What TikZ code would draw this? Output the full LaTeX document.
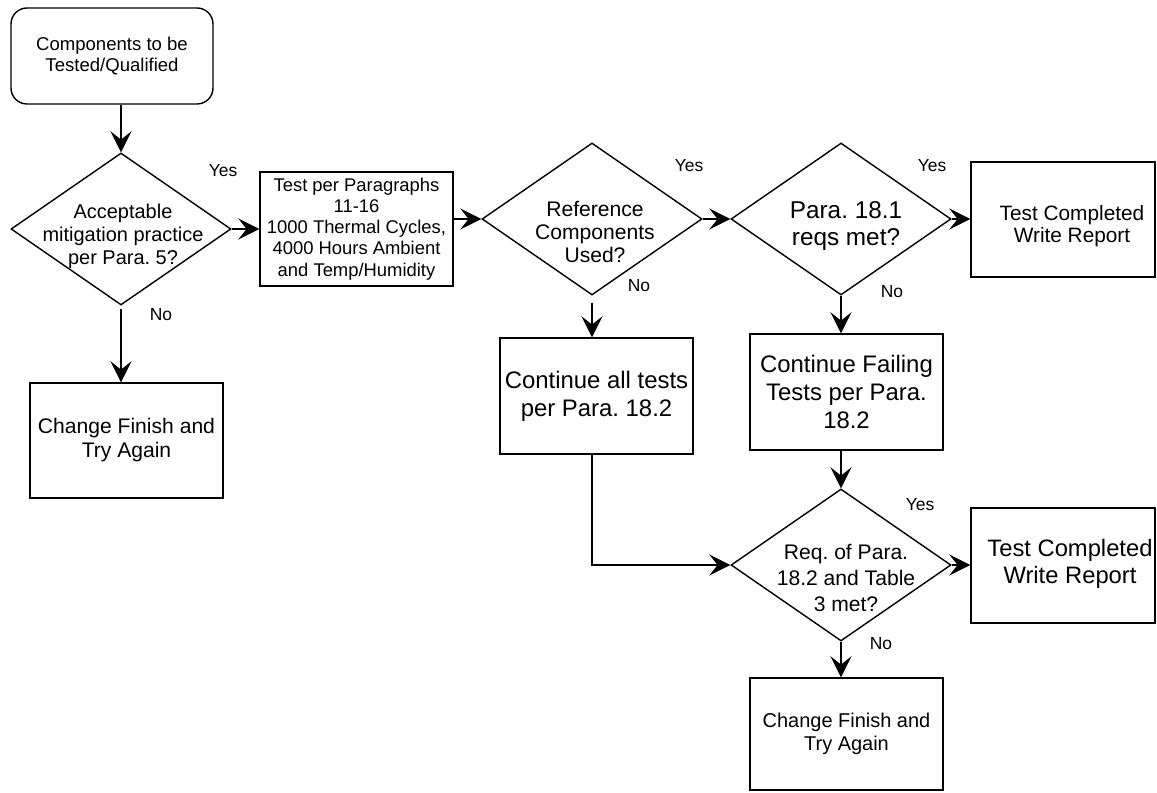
\documentclass[tikz,border=0pt]{standalone}
\usepackage{fontspec}
\setmainfont{Liberation Sans}
\frenchspacing
\usetikzlibrary{shapes.geometric,arrows.meta}

\tikzset{
  box/.style={draw, line width=1pt, minimum width=4.825cm, minimum height=2.875cm, inner sep=0pt, align=center},
  decision/.style={diamond, draw, line width=1pt, minimum width=5.5cm, minimum height=3.8cm, inner sep=0pt},
  label text/.style={align=center, inner sep=0pt},
  arr/.style={line width=1pt, -{Stealth[length=15pt, width=15pt, inset=6pt]}},
  yesno/.style={inner sep=0pt, font=\fontsize{12.4}{14}\selectfont},
}

\begin{document}
\begin{tikzpicture}
        \useasboundingbox (0,0) rectangle (28.925,19.8);
        % first column
        \node [box, rounded corners=0.4cm, minimum width=5.05cm, minimum height=2.4cm,
               font=\fontsize{13.2}{14.4}\selectfont] (start) at (2.8,18.4) {Components to be\\Tested/Qualified};
        \node [decision] (D1) at (3.025,14.075) {};
        \node [label text, font=\fontsize{14.2}{16.4}\selectfont] (D1t) at (3.075,13.9) {Acceptable\\mitigation practice\\per Para. 5?};
        \node [box, font=\fontsize{15}{17}\selectfont] (fail1) at (3.1625,8.7875) {Change Finish and\\Try Again};
        \node [box, minimum height=2.85cm, font=\fontsize{13.1}{15.1}\selectfont] (test) at (8.9125,14.075)
              {Test per Paragraphs\\11-16\\1000 Thermal Cycles,\\4000 Hours Ambient\\and Temp/Humidity};
        % reference components
        \node [decision] (D2) at (14.8,14.325) {};
        \node [label text, font=\fontsize{15}{16.7}\selectfont] (D2t) at (14.875,14.0) {Reference\\Components\\Used?};
        \node [box, minimum height=2.9cm, font=\fontsize{17}{19.9}\selectfont] (contall) at (14.9125,9.9) {Continue all tests\\per Para. 18.2};
        % para. 18.1 / 18.2
        \node [decision] (D3) at (21.025,14.325) {};
        \node [label text, font=\fontsize{17.3}{19.2}\selectfont] (D3t) at (21.15,14.1375) {Para. 18.1\\reqs met?};
        \node [box, minimum height=2.9cm, font=\fontsize{17}{19.6}\selectfont] (contfail) at (21.1625,10.0) {Continue Failing\\Tests per Para.\\18.2};
        \node [decision] (D4) at (21.025,5.675) {};
        \node [label text, font=\fontsize{15}{18.5}\selectfont] (D4t) at (21.15,5.35) {Req. of Para.\\18.2 and Table\\3 met?};
        \node [box, minimum height=2.8cm, font=\fontsize{14.2}{16.5}\selectfont] (fail2) at (21.1625,1.45) {Change Finish and\\Try Again};
        % reports
        \node [box, minimum width=4.6cm] (done1) at (26.575,14.3125) {};
        \node [label text, font=\fontsize{14.8}{15.6}\selectfont] (done1t) at (26.8,14.15) {Test Completed\\Write Report};
        \node [box, minimum width=4.6cm] (done2) at (26.575,5.6625) {};
        \node [label text, font=\fontsize{16.9}{19}\selectfont] (done2t) at (26.75,5.7) {Test Completed\\Write Report};
        % yes / no
        \node [yesno] (yes1) at (5.575,15.525) {Yes};
        \node [yesno] (no1)  at (4.025,11.925) {No};
        \node [yesno] (yes2) at (17.225,15.65) {Yes};
        \node [yesno] (no2)  at (15.975,12.65) {No};
        \node [yesno] (yes3) at (23.3,15.65) {Yes};
        \node [yesno] (no3)  at (22.3,12.5) {No};
        \node [yesno] (yes4) at (23.0,7.175) {Yes};
        \node [yesno] (no4)  at (22.025,3.7) {No};
        % connectors
        \draw [arr] (start.south -| D1) -- (D1.north);
        \draw [arr] (D1.east) -- (test.west);
        \draw [arr] (test.east |- D2) -- (D2.west);
        \draw [arr] (D2.east) -- (D3.west);
        \draw [arr] (D3.east) -- (done1.west |- D3);
        \draw [arr, shorten <=2pt] (D1.south) -- (D1.south |- fail1.north);
        \draw [arr, shorten <=5pt] (D2.south) -- (D2.south |- contall.north);
        \draw [arr] (D3.south) -- (D3.south |- contfail.north);
        \draw [arr] (contfail.south -| D4) -- (D4.north);
        \draw [arr] (contall.south -| D2.south) |- (D4.west);
        \draw [arr] (D4.east) -- (done2.west |- D4);
        \draw [arr] (D4.south) -- (D4.south |- fail2.north);
\end{tikzpicture}
\end{document}
